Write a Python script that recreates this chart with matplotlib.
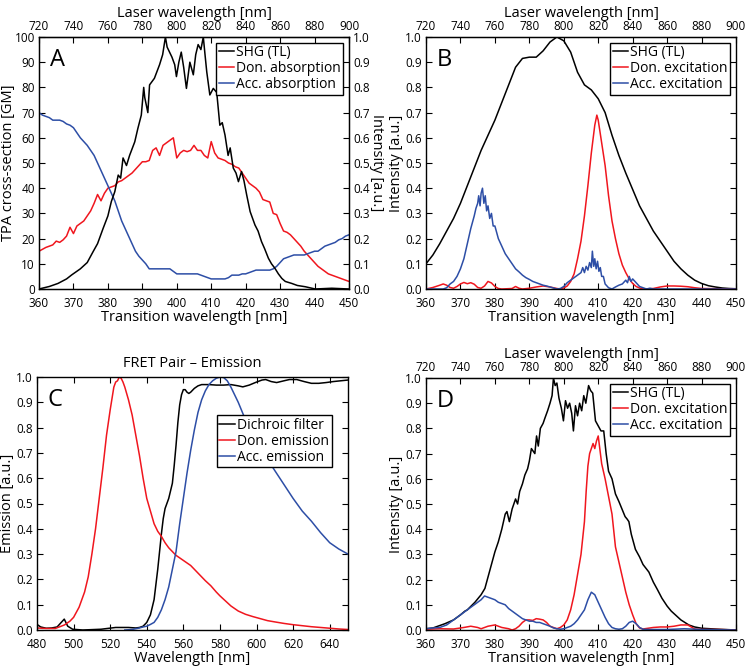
import matplotlib
matplotlib.use('Agg')
import matplotlib.pyplot as plt
from matplotlib.ticker import MultipleLocator, FormatStrFormatter

plt.rcParams['font.family'] = ['Open Sans', 'DejaVu Sans']
plt.rcParams['font.size'] = 9

RED = '#f0161e'
BLUE = '#2d4ea6'

# ---- panel A: TPA cross-sections + SHG spectrum ----
shg_a_x = [360, 363, 365.5, 368, 369.5, 372, 374, 375.7, 377, 378.6, 380, 381, 382, 383, 383.7,
           384.4, 385.4, 386.3, 387.8, 388.7, 389.7, 390.4, 390.7, 391.6, 392.1, 393.5, 395,
           395.9, 396.7, 397.2, 397.9, 398.6, 399.4, 399.9, 400.6, 401.3, 402, 402.8, 403.8,
           404.8, 405.5, 406.2, 407, 407.7, 408.2, 408.7, 409.6, 410.6, 411.6, 412.5, 413.2,
           414, 414.9, 415.5, 416.4, 417.2, 417.9, 418.8, 419.5, 420.3, 421.3, 422.7, 423.6,
           424.6, 425.5, 426.6, 427.5, 428.5, 429.5, 430.5, 431.5, 433.4, 435, 437.3, 440.2,
           445, 450]
shg_a_y = [0.0, 0.01, 0.022, 0.04, 0.056, 0.08, 0.105, 0.148, 0.18, 0.24, 0.29, 0.347, 0.386,
           0.452, 0.44, 0.52, 0.49, 0.53, 0.584, 0.637, 0.69, 0.80, 0.76, 0.70, 0.81, 0.836, 0.89,
           0.93, 1.0, 0.96, 0.94, 0.92, 0.89, 0.843, 0.90, 0.94, 0.88, 0.796, 0.90, 0.85, 0.93,
           0.97, 0.95, 1.0, 0.93, 0.862, 0.77, 0.796, 0.78, 0.65, 0.66, 0.611, 0.53, 0.56, 0.48,
           0.46, 0.426, 0.466, 0.43, 0.373, 0.307, 0.254, 0.23, 0.188, 0.16, 0.122, 0.10, 0.082,
           0.06, 0.042, 0.03, 0.022, 0.014, 0.009, 0.0, 0.003, 0.0]

don_abs_x = [360, 362, 364, 365, 366, 367, 368, 369, 370, 371, 372, 373, 374, 375, 376, 377, 378,
             379, 380, 381, 382, 383, 384, 385, 386, 387, 388, 389, 390, 391, 392, 393, 394, 395,
             396, 397, 398, 399, 400, 401, 402, 403, 404, 405, 406, 407, 408, 409, 410, 411, 412,
             413, 414, 415, 416, 417, 418, 419, 420, 421, 422, 423, 424, 425, 426, 427, 428, 429,
             430, 431, 432, 433, 434, 435, 436, 437, 438, 439, 440, 441, 442, 443, 444, 445, 446,
             447, 448, 449, 450]
don_abs_y = [15, 16.5, 17.5, 19, 18.5, 19.5, 21, 24.5, 22, 25, 26, 27, 29, 31, 34, 37.5, 35, 38,
             40, 40.5, 41, 42.5, 43, 44, 45, 46, 47.5, 49, 50.5, 50.5, 51, 55, 56, 53, 57, 58, 59,
             60, 52, 54, 55, 54.5, 55, 57, 55, 55, 53, 52, 58.5, 54, 52, 51.5, 51, 50, 49.5, 48.5,
             48, 46, 44, 42, 41, 40, 38.5, 35.5, 35, 34.5, 30, 29.5, 26, 23, 22.5, 21.5, 20, 18.5,
             17, 15, 13.5, 12, 10.5, 9, 8, 7, 6, 5.5, 5, 4.5, 4, 3.5, 3]

acc_abs_x = [360, 361, 362, 363, 364, 366, 367, 368, 369, 370, 371, 372, 373, 374, 375, 376, 377,
             378, 379, 380, 381, 382, 383, 384, 385, 386, 387, 388, 389, 390, 391, 392, 398, 399,
             400, 406, 407, 408, 409, 410, 414, 415, 416, 417, 418, 419, 420, 421, 422, 423, 427,
             428, 429, 430, 431, 432, 433, 434, 437, 438, 439, 440, 441, 442, 443, 444, 445, 446,
             447, 448, 449, 450]
acc_abs_y = [70, 69, 68.5, 68, 67, 67, 66.5, 65.5, 65, 64, 62, 60, 58.5, 57, 55, 53, 50, 47, 44,
             41, 38, 35, 31, 27, 24, 21, 18, 15, 13, 11.5, 10, 8, 8, 7, 6, 6, 5.5, 5, 4.5, 4, 4, 4.5,
             5.5, 5.5, 5.5, 6, 6, 6.5, 7, 7.5, 7.5, 8, 9, 10.5, 12, 12.5, 13, 13.5, 13.5, 14, 14.5,
             15, 15, 16, 17, 17.5, 18, 18.5, 19.5, 20, 21, 21.5]

# ---- panel B: smooth SHG + excitation ----
shg_b_x = [360, 362, 364, 366, 368, 370, 372, 374, 376, 378, 380, 382, 384, 386, 388, 390, 392,
           394, 396, 398, 400, 402, 404, 406, 408, 410, 412, 414, 416, 418, 420, 422, 424, 426,
           428, 430, 432, 434, 436, 438, 440, 442, 444, 446, 448, 450]
shg_b_y = [0.10, 0.135, 0.18, 0.23, 0.28, 0.34, 0.41, 0.48, 0.55, 0.61, 0.67, 0.74, 0.81, 0.88,
           0.915, 0.92, 0.92, 0.945, 0.98, 1.0, 0.985, 0.94, 0.86, 0.81, 0.79, 0.755, 0.70, 0.61,
           0.53, 0.46, 0.395, 0.33, 0.28, 0.23, 0.19, 0.15, 0.11, 0.08, 0.055, 0.035, 0.022,
           0.013, 0.008, 0.004, 0.002, 0.001]

don_exc_b_x = [360, 362, 364, 365, 366, 367, 368, 369, 370, 371, 372, 373, 374, 375, 376, 377,
               378, 379, 380, 381, 382, 385, 386, 387, 388, 390, 392, 394, 396, 398, 399, 400,
               401, 402, 403, 404, 405, 406, 407, 408, 409, 409.6, 410, 411, 412, 413, 414, 415,
               416, 417, 418, 419, 420, 421, 422, 423, 426, 428, 430, 432, 434, 436, 438, 440, 450]
don_exc_b_y = [0.0, 0.006, 0.015, 0.02, 0.015, 0.006, 0.003, 0.01, 0.02, 0.026, 0.021, 0.025,
               0.019, 0.006, 0.003, 0.012, 0.03, 0.024, 0.01, 0.002, 0.0, 0.002, 0.01, 0.003, 0.0,
               0.003, 0.008, 0.012, 0.008, 0.002, 0.0, 0.004, 0.012, 0.03, 0.06, 0.12, 0.19, 0.29,
               0.41, 0.54, 0.65, 0.69, 0.67, 0.58, 0.49, 0.37, 0.27, 0.20, 0.14, 0.095, 0.065,
               0.04, 0.022, 0.01, 0.004, 0.0, 0.002, 0.008, 0.012, 0.012, 0.011, 0.009, 0.005,
               0.002, 0.0]

acc_exc_b_x = [360, 365, 366, 367, 368, 369, 370, 371, 372, 373, 374, 374.5, 375, 375.3, 375.7,
               376, 376.4, 376.8, 377.2, 377.6, 378, 378.5, 379, 379.5, 380, 381, 382, 383, 384,
               385, 386, 387, 388, 389, 390, 391, 392, 393, 394, 395, 396, 397, 398, 399, 400, 401,
               402, 403, 404, 405, 405.5, 406, 406.5, 407, 407.5, 408, 408.3, 408.7, 409, 409.4,
               409.8, 410.2, 410.6, 411, 411.5, 412, 413, 414, 415, 416, 417, 418, 418.5, 419,
               419.5, 420, 421, 422, 423, 424, 425, 426, 450]
acc_exc_b_y = [0.0, 0.0, 0.005, 0.02, 0.03, 0.05, 0.08, 0.12, 0.18, 0.24, 0.29, 0.32, 0.34, 0.37,
               0.33, 0.38, 0.40, 0.34, 0.37, 0.31, 0.33, 0.28, 0.30, 0.25, 0.25, 0.20, 0.17, 0.14,
               0.12, 0.10, 0.08, 0.068, 0.055, 0.045, 0.038, 0.03, 0.025, 0.02, 0.015, 0.012, 0.008,
               0.004, 0.0, 0.002, 0.01, 0.025, 0.035, 0.045, 0.055, 0.065, 0.085, 0.065, 0.09, 0.075,
               0.105, 0.085, 0.15, 0.09, 0.12, 0.08, 0.11, 0.07, 0.085, 0.05, 0.05, 0.02, 0.005, 0.0,
               0.008, 0.015, 0.02, 0.035, 0.025, 0.05, 0.03, 0.04, 0.025, 0.01, 0.005, 0.0, 0.003,
               0.0, 0.0]

# ---- panel C: FRET pair emission ----
dichroic_x = [480, 482, 485, 488, 491, 493, 494.9, 496.8, 499.5, 505, 515, 523, 530, 534, 536,
              538, 540, 542, 544, 546, 548, 549, 550, 552, 554, 555, 556, 557, 558, 559, 560, 561,
              562, 563, 564, 566, 568, 570, 574, 578, 582, 586, 590, 592.5, 596, 600, 603, 605,
              608, 611, 615, 618, 622, 626, 630, 634, 638, 642, 646, 650]
dichroic_y = [0.022, 0.012, 0.007, 0.008, 0.012, 0.028, 0.043, 0.015, 0.003, 0.0, 0.003, 0.01,
              0.01, 0.008, 0.01, 0.015, 0.03, 0.06, 0.12, 0.24, 0.38, 0.44, 0.48, 0.52, 0.58,
              0.65, 0.73, 0.82, 0.89, 0.93, 0.95, 0.95, 0.94, 0.935, 0.94, 0.955, 0.965, 0.97,
              0.97, 0.968, 0.968, 0.97, 0.965, 0.961, 0.968, 0.98, 0.988, 0.99, 0.982, 0.978,
              0.985, 0.99, 0.99, 0.982, 0.975, 0.975, 0.978, 0.982, 0.985, 0.988]

don_em_x = [480, 485, 490, 495, 498, 500, 503, 506, 508, 510, 512, 514, 516, 518, 520, 522, 523,
            524, 525, 526, 527, 528, 530, 532, 534, 536, 538, 540, 542, 544, 546, 548, 550, 552,
            554, 556, 558, 560, 562, 564, 566, 568, 570, 572, 575, 578, 580, 583, 586, 590, 594,
            598, 602, 606, 610, 615, 620, 625, 630, 635, 640, 645, 650]
don_em_y = [0.008, 0.006, 0.006, 0.02, 0.035, 0.05, 0.09, 0.15, 0.21, 0.30, 0.40, 0.52, 0.64,
            0.77, 0.87, 0.96, 0.98, 0.985, 1.0, 0.995, 0.98, 0.96, 0.91, 0.85, 0.77, 0.69, 0.60,
            0.52, 0.47, 0.42, 0.39, 0.37, 0.345, 0.325, 0.31, 0.295, 0.285, 0.275, 0.265, 0.255,
            0.24, 0.225, 0.21, 0.195, 0.175, 0.15, 0.135, 0.115, 0.095, 0.075, 0.062, 0.053,
            0.045, 0.037, 0.032, 0.026, 0.021, 0.017, 0.013, 0.01, 0.007, 0.004, 0.002]

acc_em_x = [528, 532, 536, 538, 540, 542, 544, 546, 548, 550, 552, 554, 556, 558, 560, 562, 564,
            566, 568, 570, 572, 574, 576, 578, 580, 582, 584, 586, 588, 590, 594, 598, 602, 606,
            610, 615, 620, 625, 630, 635, 640, 645, 650]
acc_em_y = [0.0, 0.002, 0.008, 0.012, 0.015, 0.022, 0.03, 0.05, 0.08, 0.12, 0.17, 0.24, 0.31,
            0.42, 0.52, 0.62, 0.71, 0.79, 0.86, 0.91, 0.945, 0.97, 0.985, 0.995, 1.0, 0.998,
            0.985, 0.96, 0.93, 0.90, 0.83, 0.77, 0.72, 0.675, 0.63, 0.575, 0.52, 0.47, 0.43,
            0.385, 0.345, 0.32, 0.30]

# ---- panel D: measured SHG + excitation ----
shg_d_x = [360, 362, 365.5, 368, 370, 371.3, 372, 374.2, 376, 377.1, 378, 379, 380, 381, 382,
           383, 383.5, 384.2, 385, 386, 386.6, 387.2, 388, 388.7, 389.5, 390, 390.6, 391.6,
           392.1, 392.6, 393.2, 394, 394.5, 395.3, 396, 396.6, 397, 397.5, 398, 398.6, 399.3,
           399.9, 400.5, 401.1, 401.7, 402.3, 402.8, 403.4, 404, 404.6, 405.2, 405.8, 406.4,
           407.2, 407.8, 408.4, 409.2, 410, 410.8, 411.6, 412.3, 413, 414, 415, 416, 416.9,
           417.8, 418.4, 418.9, 419.6, 420.8, 422, 423, 424.7, 426, 427.2, 428.5, 430, 431.2,
           432.4, 434, 436.3, 438, 440, 445, 450]
shg_d_y = [0.005, 0.008, 0.025, 0.04, 0.06, 0.075, 0.08, 0.11, 0.14, 0.165, 0.21, 0.26, 0.31,
           0.35, 0.40, 0.46, 0.47, 0.43, 0.48, 0.52, 0.50, 0.55, 0.58, 0.615, 0.64, 0.67, 0.72,
           0.70, 0.77, 0.73, 0.80, 0.82, 0.84, 0.87, 0.90, 0.93, 1.0, 0.97, 0.98, 0.92, 0.88,
           0.83, 0.91, 0.88, 0.90, 0.86, 0.79, 0.89, 0.85, 0.90, 0.87, 0.93, 0.90, 0.97, 0.95,
           0.94, 0.83, 0.81, 0.79, 0.79, 0.70, 0.63, 0.60, 0.54, 0.51, 0.48, 0.45, 0.44, 0.43,
           0.38, 0.32, 0.29, 0.26, 0.23, 0.19, 0.16, 0.126, 0.095, 0.075, 0.06, 0.04, 0.02, 0.012,
           0.007, 0.003, 0.0]

don_exc_d_x = [360, 364, 368, 371, 373, 375, 376, 378, 380, 382, 384, 385, 386, 387, 388, 389,
               390, 391, 392, 393, 394, 395, 396, 397, 398, 399, 400, 401, 402, 403, 404, 405,
               406, 406.5, 407, 407.5, 408, 408.5, 409, 409.5, 410, 411, 412, 413, 414, 415, 416,
               417, 418, 419, 420, 421, 422, 423, 424, 426, 428, 430, 432, 434, 436, 437, 438,
               440, 445, 450]
don_exc_d_y = [0.003, 0.005, 0.004, 0.01, 0.015, 0.01, 0.005, 0.015, 0.02, 0.01, 0.005, 0.0,
               0.005, 0.015, 0.03, 0.04, 0.04, 0.038, 0.045, 0.043, 0.04, 0.03, 0.015, 0.01,
               0.005, 0.01, 0.02, 0.04, 0.08, 0.14, 0.22, 0.30, 0.43, 0.55, 0.65, 0.70, 0.72,
               0.74, 0.72, 0.75, 0.77, 0.66, 0.60, 0.53, 0.46, 0.33, 0.27, 0.21, 0.15, 0.10, 0.06,
               0.025, 0.008, 0.004, 0.006, 0.01, 0.012, 0.012, 0.015, 0.02, 0.02, 0.012, 0.004,
               0.002, 0.002, 0.0]

acc_exc_d_x = [360, 362, 364, 366, 368, 370, 372, 374, 375, 376, 377, 378, 379, 380, 381, 382,
               383, 384, 385, 386, 387, 388, 389, 390, 391, 392, 393, 394, 395, 396, 397, 398,
               399, 400, 401, 402, 403, 404, 405, 406, 407, 408, 409, 410, 411, 412, 413, 414,
               415, 416, 417, 418, 419, 420, 421, 422, 423, 425, 430, 435, 440, 450]
acc_exc_d_y = [0.005, 0.008, 0.01, 0.02, 0.04, 0.06, 0.08, 0.10, 0.11, 0.12, 0.135, 0.13, 0.125,
               0.12, 0.11, 0.105, 0.10, 0.085, 0.075, 0.065, 0.055, 0.045, 0.04, 0.035, 0.035,
               0.03, 0.03, 0.025, 0.02, 0.015, 0.008, 0.005, 0.003, 0.005, 0.01, 0.015, 0.025,
               0.04, 0.06, 0.08, 0.12, 0.15, 0.14, 0.11, 0.08, 0.05, 0.025, 0.01, 0.005, 0.003,
               0.005, 0.015, 0.03, 0.035, 0.025, 0.01, 0.003, 0.002, 0.002, 0.005, 0.002, 0.0]

TICK_FS = 8.5
LABEL_FS = 10.5


def style_axes(ax, ticks_right=True, ticks_top=True):
    ax.tick_params(direction='in', length=4, width=0.8, labelsize=TICK_FS,
                   right=ticks_right, top=ticks_top)
    ax.tick_params(axis='x', pad=6)
    ax.tick_params(axis='y', pad=3)
    for sp in ax.spines.values():
        sp.set_linewidth(1.0)


def laser_axis(ax):
    top = ax.secondary_xaxis('top', functions=(lambda x: 2 * x, lambda x: x / 2))
    top.set_xticks(range(720, 901, 20))
    top.tick_params(direction='in', length=4, width=0.8, labelsize=TICK_FS, pad=3)
    top.set_xlabel('Laser wavelength [nm]', fontsize=LABEL_FS, labelpad=2)
    return top


def transition_x(ax):
    ax.set_xlim(360, 450)
    ax.xaxis.set_major_locator(MultipleLocator(10))
    ax.set_xlabel('Transition wavelength [nm]', fontsize=LABEL_FS, labelpad=0)


def unit_y(ax):
    ax.set_ylim(0, 1)
    ax.yaxis.set_major_locator(MultipleLocator(0.1))
    ax.yaxis.set_major_formatter(FormatStrFormatter('%.1f'))


def boxed_legend(ax, handles=None, labels=None, **kw):
    opts = dict(fontsize=10, handlelength=1.1, handletextpad=0.15, borderpad=0.2,
                labelspacing=0.05, borderaxespad=0.4, fancybox=False, framealpha=1)
    opts.update(kw)
    if handles is None:
        lg = ax.legend(**opts)
    else:
        lg = ax.legend(handles, labels, **opts)
    lg.get_frame().set_edgecolor('black')
    lg.get_frame().set_linewidth(1.0)
    return lg


def panel_letter(ax, s):
    ax.text(0.035, 0.955, s, transform=ax.transAxes, fontsize=17, va='top', ha='left')


fig = plt.figure(figsize=(7.47, 6.69), dpi=100)
lw = 1.1

# A
axA = fig.add_axes([39 / 747, 380 / 669, 310 / 747, 252 / 669])
axA2 = axA.twinx()
axA.plot(don_abs_x, don_abs_y, color=RED, lw=lw)
axA.plot(acc_abs_x, acc_abs_y, color=BLUE, lw=lw)
axA2.plot(shg_a_x, shg_a_y, color='k', lw=lw)
axA.set_ylim(0, 100)
axA.yaxis.set_major_locator(MultipleLocator(10))
unit_y(axA2)
transition_x(axA)
axA.set_ylabel('TPA cross-section [GM]', fontsize=LABEL_FS)
axA.yaxis.set_label_coords(-0.075, 0.5)
axA2.set_ylabel('Intensity [a.u.]', fontsize=LABEL_FS, rotation=270, labelpad=10)
style_axes(axA, ticks_right=False, ticks_top=False)
axA2.tick_params(direction='in', length=4, width=0.8, labelsize=TICK_FS, pad=3)
laser_axis(axA)
panel_letter(axA, 'A')
hA = [plt.Line2D([], [], color='k', lw=lw), plt.Line2D([], [], color=RED, lw=lw),
      plt.Line2D([], [], color=BLUE, lw=lw)]
boxed_legend(axA2, hA, ['SHG (TL)', 'Don. absorption', 'Acc. absorption'], loc='upper right')

# B
axB = fig.add_axes([426 / 747, 380 / 669, 310 / 747, 252 / 669])
axB.plot(shg_b_x, shg_b_y, color='k', lw=lw, label='SHG (TL)')
axB.plot(don_exc_b_x, don_exc_b_y, color=RED, lw=lw, label='Don. excitation')
axB.plot(acc_exc_b_x, acc_exc_b_y, color=BLUE, lw=lw, label='Acc. excitation')
unit_y(axB)
transition_x(axB)
axB.set_ylabel('Intensity [a.u.]', fontsize=LABEL_FS, labelpad=1)
style_axes(axB, ticks_top=False)
laser_axis(axB)
panel_letter(axB, 'B')
boxed_legend(axB, loc='upper right')

# C
axC = fig.add_axes([37 / 747, 39 / 669, 311 / 747, 253 / 669])
axC.plot(dichroic_x, dichroic_y, color='k', lw=lw, label='Dichroic filter')
axC.plot(don_em_x, don_em_y, color=RED, lw=lw, label='Don. emission')
axC.plot(acc_em_x, acc_em_y, color=BLUE, lw=lw, label='Acc. emission')
axC.set_xlim(480, 650)
axC.xaxis.set_major_locator(MultipleLocator(20))
unit_y(axC)
axC.set_xlabel('Wavelength [nm]', fontsize=LABEL_FS, labelpad=0)
axC.set_ylabel('Emission [a.u.]', fontsize=LABEL_FS, labelpad=1)
axC.set_title('FRET Pair \u2013 Emission', fontsize=LABEL_FS, pad=7)
style_axes(axC)
panel_letter(axC, 'C')
boxed_legend(axC, loc='upper left', bbox_to_anchor=(0.56, 0.87))

# D
axD = fig.add_axes([426 / 747, 39 / 669, 310 / 747, 252 / 669])
axD.plot(shg_d_x, shg_d_y, color='k', lw=lw, label='SHG (TL)')
axD.plot(don_exc_d_x, don_exc_d_y, color=RED, lw=lw, label='Don. excitation')
axD.plot(acc_exc_d_x, acc_exc_d_y, color=BLUE, lw=lw, label='Acc. excitation')
unit_y(axD)
transition_x(axD)
axD.set_ylabel('Intensity [a.u.]', fontsize=LABEL_FS, labelpad=1)
style_axes(axD, ticks_top=False)
laser_axis(axD)
panel_letter(axD, 'D')
boxed_legend(axD, loc='upper right')

fig.savefig('out.png', dpi=100)
